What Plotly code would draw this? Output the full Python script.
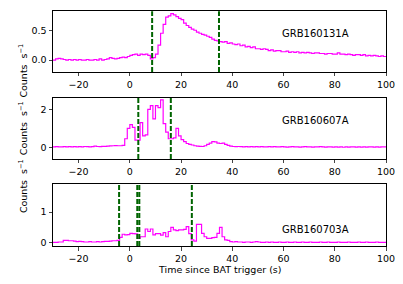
import plotly.graph_objects as go
from plotly.subplots import make_subplots

t_start = -30
bin_width = 1.0

grb_names = ["GRB160131A", "GRB160607A", "GRB160703A"]

rate_160131A = [
    0.00, 0.02, 0.03, 0.02, 0.01, 0.00, 0.01, 0.00, 0.01, 0.00,
    0.01, 0.00, 0.00, 0.01, 0.00, 0.00, 0.01, 0.00, 0.02, 0.00,
    0.01, 0.02, 0.04, 0.03, 0.02, 0.03, 0.04, 0.05, 0.04, 0.06,
    0.08, 0.09, 0.10, 0.08, 0.10, 0.09, 0.10, 0.08, 0.02, 0.04,
    0.10, 0.25, 0.45, 0.60, 0.72, 0.74, 0.78, 0.76, 0.73, 0.70,
    0.68, 0.62, 0.58, 0.55, 0.52, 0.50, 0.47, 0.45, 0.43, 0.42,
    0.40, 0.38, 0.35, 0.33, 0.32, 0.31, 0.30, 0.31, 0.28, 0.29,
    0.27, 0.26, 0.27, 0.24, 0.25, 0.22, 0.23, 0.21, 0.22, 0.19,
    0.19, 0.18, 0.19, 0.18, 0.16, 0.17, 0.15, 0.16, 0.16, 0.14,
    0.14, 0.15, 0.13, 0.14, 0.13, 0.14, 0.12, 0.13, 0.12, 0.13,
    0.12, 0.11, 0.12, 0.12, 0.11, 0.11, 0.10, 0.11, 0.11, 0.10,
    0.10, 0.12, 0.10, 0.10, 0.09, 0.10, 0.09, 0.08, 0.09, 0.09,
    0.08, 0.09, 0.07, 0.08, 0.07, 0.08, 0.07, 0.06, 0.07, 0.06,
]

rate_160607A = [
    0.02, 0.03, 0.02, 0.02, 0.03, 0.02, 0.03, 0.02, 0.03, 0.02,
    0.03, 0.02, 0.04, 0.03, 0.02, 0.03, 0.06, 0.04, 0.03, 0.05,
    0.05, 0.06, 0.07, 0.08, 0.09, 0.08, 0.08, 0.10, 0.45, 1.00,
    1.20, 1.05, 0.38, 0.38, 1.30, 0.60, 0.65, 2.00, 2.20, 1.50,
    2.20, 2.10, 2.50, 1.25, 0.80, 0.45, 0.45, 0.50, 1.00, 0.60,
    0.40, 0.30, 0.20, 0.15, 0.12, 0.08, 0.06, 0.05, 0.04, 0.08,
    0.15, 0.22, 0.30, 0.28, 0.22, 0.20, 0.22, 0.15, 0.10, 0.06,
    0.04, 0.03, 0.04, 0.03, 0.02, 0.03, 0.02, 0.03, 0.02, 0.03,
    0.02, 0.03, 0.02, 0.02, 0.03, 0.02, 0.03, 0.02, 0.02, 0.03,
    0.02, 0.01, 0.02, 0.03, 0.02, 0.02, 0.01, 0.02, 0.03, 0.02,
    0.02, 0.01, 0.02, 0.02, 0.03, 0.02, 0.01, 0.02, 0.02, 0.01,
    0.02, 0.01, 0.02, 0.00, 0.02, 0.01, 0.02, 0.02, 0.01, 0.02,
    0.01, 0.02, 0.01, 0.02, 0.02, 0.01, 0.02, 0.01, 0.02, 0.02,
]

rate_160703A = [
    0.02, 0.02, 0.03, 0.03, 0.08, 0.08, 0.07, 0.07, 0.06, 0.04,
    0.05, 0.04, 0.03, 0.03, 0.04, 0.03, 0.03, 0.04, 0.03, 0.04,
    0.05, 0.05, 0.06, 0.07, 0.07, 0.08, 0.18, 0.28, 0.26, 0.27,
    0.31, 0.30, 0.29, 0.15, 0.20, 0.20, 0.45, 0.37, 0.45, 0.26,
    0.30, 0.30, 0.25, 0.33, 0.20, 0.37, 0.50, 0.42, 0.40, 0.42,
    0.42, 0.44, 0.53, 0.30, 0.10, 0.06, 0.60, 0.60, 0.31, 0.20,
    0.15, 0.15, 0.17, 0.18, 0.31, 0.50, 0.20, 0.10, 0.08, 0.04,
    0.03, 0.04, 0.03, 0.03, 0.02, 0.03, 0.03, 0.02, 0.03, 0.04,
    0.03, 0.02, 0.02, 0.03, 0.02, 0.03, 0.02, 0.02, 0.03, 0.02,
    0.02, 0.03, 0.02, 0.02, 0.03, 0.02, 0.02, 0.03, 0.02, 0.02,
    0.03, 0.02, 0.02, 0.02, 0.03, 0.02, 0.02, 0.03, 0.02, 0.02,
    0.02, 0.03, 0.02, 0.02, 0.02, 0.03, 0.02, 0.02, 0.02, 0.03,
    0.02, 0.02, 0.03, 0.02, 0.02, 0.02, 0.03, 0.02, 0.02, 0.02,
]

vlines = [
    [8.7, 34.8],
    [3.3, 16.0],
    [-4.2, 2.9, 3.7, 24.2],
]

y_ranges = [[-0.2, 0.82], [-0.62, 2.63], [-0.1, 1.9]]
y_ticks = [[0, 0.5], [0, 2], [0, 1]]
y_tickfmt = [".1f", "d", "d"]
label_y = [0.45, 1.4, 0.43]

x_range = [-30, 100]
x_ticks = [-20, 0, 20, 40, 60, 80, 100]

series = [rate_160131A, rate_160607A, rate_160703A]

# layout geometry: page pixels of the reference, minus the 8px page body margin
OFF = 8
W, H = 403 - OFF, 284 - OFF
ml, mr, mt, mb = 53 - OFF, 17, 10.5 - OFF, 37.7
ph = H - mt - mb
pw = W - ml - mr
panels_px = [(10.7, 71.7), (97.3, 159.0), (184.3, 246.3)]
domains = [[1 - (b - OFF - mt) / ph, 1 - (t - OFF - mt) / ph] for (t, b) in panels_px]

fig = make_subplots(rows=3, cols=1)
font = dict(family="DejaVu Sans", size=9.5, color="black")

for i, vals in enumerate(series):
    r = i + 1
    sfx = '' if r == 1 else str(r)
    xs = [t_start + k * bin_width for k in range(len(vals) + 1)]
    ys = list(vals) + [vals[-1]]
    fig.add_trace(go.Scatter(x=xs, y=ys, mode="lines", line=dict(color="#ff00ff", width=1.2, shape="hv"),
                             showlegend=False, hoverinfo="skip"), row=r, col=1)
    for xv in vlines[i]:
        fig.add_shape(type="line", x0=xv, x1=xv, y0=0, y1=1, xref=f"x{sfx}",
                      yref=f"y{sfx} domain",
                      line=dict(color="#006400", width=2, dash="5px,2px"))
    fig.add_annotation(x=72.5, y=label_y[i], xref=f"x{sfx}", yref=f"y{sfx}",
                       text=grb_names[i], showarrow=False, font=dict(family="DejaVu Sans", size=10, color="black"))
    fig.update_xaxes(row=r, col=1, range=x_range, tickvals=x_ticks, ticks="outside", ticklen=3.5,
                     showline=True, linecolor="black", linewidth=1, mirror=True, showgrid=False,
                     zeroline=False, tickfont=font, automargin=False)
    fig.update_yaxes(row=r, col=1, range=y_ranges[i], tickvals=y_ticks[i], tickformat=y_tickfmt[i],
                     ticks="outside", ticklen=3.5, showline=True, linecolor="black", linewidth=1,
                     mirror=True, showgrid=False, zeroline=False, tickfont=font, domain=domains[i],
                     automargin=False)
    # y-axis title
    yc = (domains[i][0] + domains[i][1]) / 2
    fig.add_annotation(x=(15 - OFF - ml) / pw, y=yc, xref="paper", yref="paper",
                       text="Counts  s<sup>−1</sup>", textangle=-90, showarrow=False,
                       font=dict(family="DejaVu Sans", size=9.5, color="black"))

fig.add_annotation(x=0.5, y=-(269.5 - OFF - (H - mb)) / ph, xref="paper", yref="paper",
                   text="Time since BAT trigger (s)", showarrow=False, yanchor="middle",
                   font=dict(family="DejaVu Sans", size=9.5, color="black"))

fig.update_layout(width=W, height=H, margin=dict(l=ml, r=mr, t=mt, b=mb, autoexpand=False),
                  plot_bgcolor="white", paper_bgcolor="white")

fig.write_html("out.html")
